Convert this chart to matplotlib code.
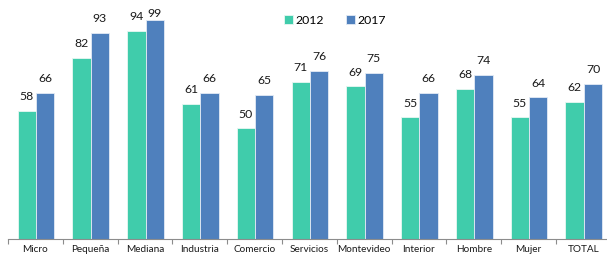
import numpy as np
import matplotlib
matplotlib.use("Agg")
import matplotlib.pyplot as plt

plt.rcParams['font.family'] = ['Lato', 'DejaVu Sans']

# Data
categories = ["Micro", "Pequeña", "Mediana", "Industria", "Comercio", "Servicios",
              "Montevideo", "Interior", "Hombre", "Mujer", "TOTAL"]
vals_2012 = [58, 82, 94, 61, 50, 71, 69, 55, 68, 55, 62]
vals_2017 = [66, 93, 99, 66, 65, 76, 75, 66, 74, 64, 70]

green = "#40CCAB"
blue = "#4F80BD"

W, H = 607, 256
fig = plt.figure(figsize=(W / 100, H / 100), dpi=100)
ax_left, ax_right = 8 / W, 610.7 / W
ax_bottom, ax_top = 17 / H, (H - 9) / H
ax = fig.add_axes([ax_left, ax_bottom, ax_right - ax_left, ax_top - ax_bottom])

ymax = 104
x = np.arange(len(categories))
bw = 0.335
b1 = ax.bar(x - bw / 2 + 0.01, vals_2012, bw, color=green, edgecolor="#e8f7f3", linewidth=0.6, label="2012")
b2 = ax.bar(x + bw / 2 + 0.01, vals_2017, bw, color=blue, edgecolor="#e3ebf5", linewidth=0.6, label="2017")

# value labels, pushed down when they would leave the plot area
for bars, vals in ((b1, vals_2012), (b2, vals_2017)):
    for r, v in zip(bars, vals):
        y = min(v + 4, ymax - 4.6)
        ax.text(r.get_x() + r.get_width() / 2, y, str(v), ha="center", va="bottom",
                fontsize=8.8, color="#1a1a1a")

ax.set_xlim(-0.5, len(categories) - 0.5)
ax.set_ylim(0, ymax)
ax.set_yticks([])
ax.set_xticks(np.arange(len(categories) + 1) - 0.5, minor=False)
ax.set_xticklabels([])
ax.tick_params(axis="x", which="major", direction="out", length=3.5, color="#8c8c8c", width=0.8)
ax.set_xticks(x, minor=True)
ax.set_xticklabels(categories, minor=True, fontsize=7.2, color="#1a1a1a")
ax.tick_params(axis="x", which="minor", length=0, pad=4.5)
for s in ("top", "right", "left"):
    ax.spines[s].set_visible(False)
ax.spines["bottom"].set_color("#8c8c8c")
ax.spines["bottom"].set_linewidth(0.8)

fig.legend(handles=[b1, b2], labels=["2012", "2017"], loc="center",
           bbox_to_anchor=(335 / W, 1 - 20.5 / H), ncol=2, frameon=False,
           fontsize=8.8, handlelength=0.75, handleheight=0.75, handletextpad=0.2,
           columnspacing=1.8)

fig.savefig("out.png", dpi=100)
